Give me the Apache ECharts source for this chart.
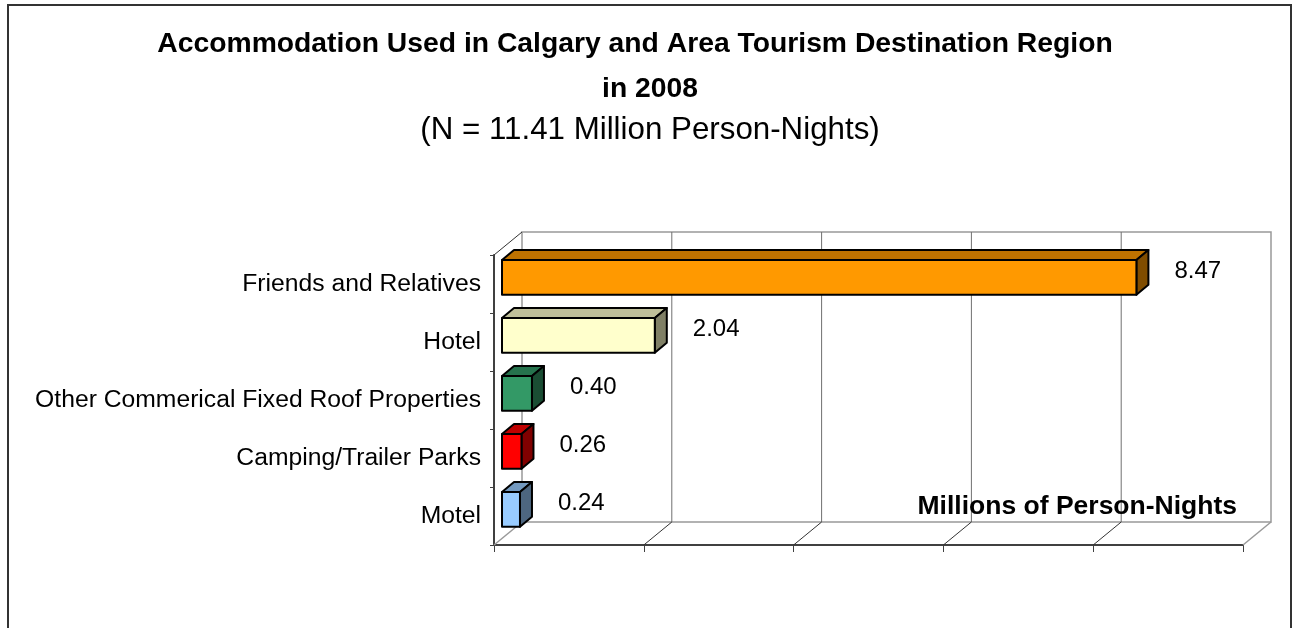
<!DOCTYPE html>
<html>
<head>
<meta charset="utf-8">
<style>
  html, body { margin: 0; padding: 0; background: #ffffff; }
  #chart { width: 1293px; height: 628px; }
</style>
<script src="https://cdn.jsdelivr.net/npm/echarts@6/dist/echarts.min.js"></script>
</head>
<body>
<div id="chart"></div>
<script>
// Accommodation types, top to bottom
const categories = [
  'Friends and Relatives',
  'Hotel',
  'Other Commerical Fixed Roof Properties',
  'Camping/Trailer Parks',
  'Motel'
];
// Millions of person-nights
const values = [8.47, 2.04, 0.40, 0.26, 0.24];
// Front-face colour of each bar
const barColors = ['#FF9900', '#FFFFCC', '#339966', '#FF0000', '#99CCFF'];
// Value-axis ticks (labels not shown)
const xTicks = [0, 2, 4, 6, 8, 10];

const titleLine1 = 'Accommodation Used in Calgary and Area Tourism Destination Region';
const titleLine2 = 'in 2008';
const subTitle = '(N = 11.41 Million Person-Nights)';
const axisTitle = 'Millions of Person-Nights';

const FONT = "'Liberation Sans', Arial, sans-serif";

// depth of the floor / back wall and of each bar, in pixels
const WALL_DX = 28, WALL_DY = -23;
const BAR_DX = 12, BAR_DY = -10;
const BAR_FRONT_DX = 8, BAR_FRONT_DY = -6.6;

function shade(hex, k) {
  const n = parseInt(hex.slice(1), 16);
  const r = Math.round(((n >> 16) & 255) * k);
  const g = Math.round(((n >> 8) & 255) * k);
  const b = Math.round((n & 255) * k);
  return 'rgb(' + r + ',' + g + ',' + b + ')';
}

const chart = echarts.init(document.getElementById('chart'), null, { renderer: 'canvas' });

function renderFrame(params, api) {
  const cs = params.coordSys;
  const L = cs.x, T = cs.y, B = cs.y + cs.height, R = cs.x + cs.width;
  const children = [];
  // back wall
  children.push({
    type: 'polygon',
    shape: { points: [[L + WALL_DX, T + WALL_DY], [R + WALL_DX, T + WALL_DY], [R + WALL_DX, B + WALL_DY], [L + WALL_DX, B + WALL_DY]] },
    style: { fill: '#ffffff', stroke: '#999999', lineWidth: 1.5 }
  });
  xTicks.forEach(function (v, i) {
    const x = api.coord([v, 0])[0];
    const edge = (i === 0 || i === xTicks.length - 1);
    if (!edge) {
      children.push({
        type: 'line',
        shape: { x1: x + WALL_DX, y1: T + WALL_DY, x2: x + WALL_DX, y2: B + WALL_DY },
        style: { stroke: '#707070', lineWidth: 1 }
      });
    }
    children.push({
      type: 'line',
      shape: { x1: x, y1: B, x2: x + WALL_DX, y2: B + WALL_DY },
      style: { stroke: edge ? '#999999' : '#333333', lineWidth: edge ? 1.5 : 1 }
    });
  });
  // top edge of the side wall
  children.push({
    type: 'line',
    shape: { x1: L, y1: T, x2: L + WALL_DX, y2: T + WALL_DY },
    style: { stroke: '#333333', lineWidth: 1 }
  });
  return { type: 'group', children: children };
}

function renderBar(params, api) {
  const idx = api.value(1);
  const v = api.value(0);
  const p0 = api.coord([0, idx]);
  const p1 = api.coord([v, idx]);
  const band = api.size([0, 1])[1];
  const h = band * 0.6;
  const x0 = p0[0] + BAR_FRONT_DX;
  const x1 = p1[0] + BAR_FRONT_DX;
  const yc = p0[1] + BAR_FRONT_DY;
  const yT = yc - h / 2, yB = yc + h / 2;
  const base = barColors[idx];
  const stroke = { stroke: '#000000', lineWidth: 2, lineJoin: 'round' };
  return {
    type: 'group',
    children: [
      {
        type: 'polygon',
        shape: { points: [[x0, yT], [x1, yT], [x1 + BAR_DX, yT + BAR_DY], [x0 + BAR_DX, yT + BAR_DY]] },
        style: Object.assign({ fill: shade(base, 0.75) }, stroke)
      },
      {
        type: 'polygon',
        shape: { points: [[x1, yT], [x1 + BAR_DX, yT + BAR_DY], [x1 + BAR_DX, yB + BAR_DY], [x1, yB]] },
        style: Object.assign({ fill: shade(base, 0.5) }, stroke)
      },
      {
        type: 'rect',
        shape: { x: x0, y: yT, width: x1 - x0, height: h },
        style: Object.assign({ fill: base }, stroke)
      },
      {
        type: 'text',
        x: x1 + 38,
        y: yc - 6,
        style: {
          text: v.toFixed(2),
          fontSize: 24,
          fontFamily: FONT,
          fill: '#000000',
          align: 'left', textAlign: 'left',
          verticalAlign: 'middle', textVerticalAlign: 'middle'
        }
      }
    ]
  };
}

function txt(text, x, y, size, weight, align) {
  return {
    type: 'text',
    x: x, y: y,
    style: {
      text: text,
      fontSize: size,
      fontWeight: weight,
      fontFamily: FONT,
      fill: '#000000',
      align: align, textAlign: align,
      verticalAlign: 'middle', textVerticalAlign: 'middle'
    }
  };
}

chart.setOption({
  animation: false,
  backgroundColor: '#ffffff',
  grid: { left: 494, right: 50, top: 255, bottom: 83, containLabel: false },
  xAxis: {
    type: 'value',
    min: 0, max: 10, interval: 2,
    axisLabel: { show: false },
    splitLine: { show: false },
    axisLine: { show: true, lineStyle: { color: '#404040', width: 2 } },
    axisTick: { show: true, length: 7, lineStyle: { color: '#404040', width: 1 } }
  },
  yAxis: {
    type: 'category',
    inverse: true,
    data: categories,
    axisLine: { show: true, lineStyle: { color: '#404040', width: 2 } },
    axisTick: { show: true, length: 4, lineStyle: { color: '#404040', width: 1 } },
    axisLabel: { fontSize: 24.7, fontFamily: FONT, color: '#000000', margin: 13 },
    splitLine: { show: false }
  },
  series: [
    {
      type: 'custom',
      z: 1,
      clip: false,
      silent: true,
      renderItem: renderFrame,
      data: [[0, 0]]
    },
    {
      type: 'custom',
      z: 5,
      clip: false,
      renderItem: renderBar,
      encode: { x: 0, y: 1 },
      data: values.map(function (v, i) { return [v, i]; })
    }
  ],
  graphic: [
    {
      type: 'rect',
      shape: { x: 8, y: 5, width: 1283, height: 700 },
      style: { fill: 'none', stroke: '#333333', lineWidth: 2 },
      z: 0
    },
    txt(titleLine1, 635, 44, 28.3, 'bold', 'center'),
    txt(titleLine2, 650, 89, 28.3, 'bold', 'center'),
    txt(subTitle, 650, 130, 31.3, 'normal', 'center'),
    Object.assign(txt(axisTitle, 1237, 507, 26.5, 'bold', 'right'), { z: 10 })
  ]
});
</script>
</body>
</html>
